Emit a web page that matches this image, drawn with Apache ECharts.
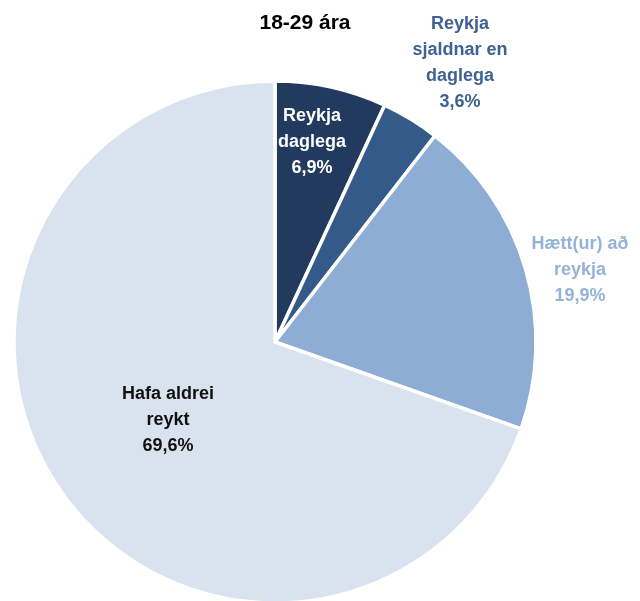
<!DOCTYPE html>
<html><head><meta charset="utf-8">
<script src="https://cdn.jsdelivr.net/npm/echarts@6/dist/echarts.min.js"></script>
<style>html,body{margin:0;padding:0;background:#fff}#c{width:640px;height:601px}</style>
</head><body><div id="c"></div>
<script>
const categories = ['Reykja\ndaglega', 'Reykja\nsjaldnar en\ndaglega', 'Hætt(ur) að\nreykja', 'Hafa aldrei\nreykt'];
const values = [6.9, 3.6, 19.9, 69.6];
const colors = ['#223a5e', '#335a88', '#8eadd5', '#d8e3ef'];
const labelColors = ['#ffffff', '#3d6293', '#94b3d8', '#111111'];
const labelPos = [[312, 142], [460, 63], [580, 270], [168, 420]];

const chart = echarts.init(document.getElementById('c'), null, {renderer: 'canvas'});
chart.setOption({
  animation: false,
  title: {text: '18-29 ára', left: 300, top: 8, textAlign: 'center',
    textStyle: {fontFamily: 'Liberation Sans', fontWeight: 'bold', fontSize: 21, color: '#000'}},
  series: [{
    type: 'pie',
    center: [275, 342],
    radius: [0, 261],
    startAngle: 90,
    clockwise: true,
    avoidLabelOverlap: false,
    itemStyle: {borderColor: '#fff', borderWidth: 3.5},
    label: {
      show: true, position: 'outside', overflow: 'none', width: 200,
      fontFamily: 'Liberation Sans', fontWeight: 'bold', fontSize: 18, lineHeight: 26,
      align: 'center', verticalAlign: 'middle',
      formatter: p => p.name + '\n' + p.value.toFixed(1).replace('.', ',') + '%'
    },
    labelLine: {show: false},
    labelLayout: p => ({x: labelPos[p.dataIndex][0], y: labelPos[p.dataIndex][1], align: 'center', verticalAlign: 'middle', hideOverlap: false}),
    data: categories.map((n, i) => ({
      name: n, value: values[i],
      itemStyle: {color: colors[i]},
      label: {color: labelColors[i]}
    }))
  }]
});
</script></body></html>
